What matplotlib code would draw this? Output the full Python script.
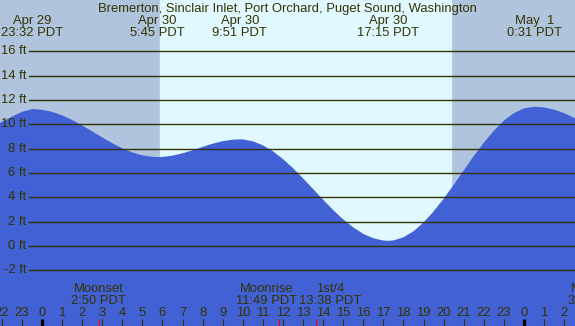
import matplotlib

matplotlib.use("Agg")
import matplotlib.pyplot as plt  # noqa: E402

plt.rcParams["font.family"] = ["Liberation Sans", "DejaVu Sans"]

# hours relative to Apr 30 00:00 PDT, tide height in ft
hours = [-2.1, -1.5, -1.0, -0.47, 0, 0.5, 1, 1.5, 2, 2.5, 3, 3.5, 4, 4.5, 5, 5.5,
         5.75, 6, 6.5, 7, 7.5, 8, 8.5, 9, 9.5, 9.85, 10, 10.5, 11, 11.5, 12, 12.5,
         13, 13.5, 14, 14.5, 15, 15.5, 16, 16.5, 17, 17.25, 17.5, 18, 18.5, 19,
         19.5, 20, 20.5, 21, 21.5, 22, 22.5, 23, 23.5, 24, 24.52, 25, 25.5, 26, 26.6]
heights = [10.10, 10.62, 11.02, 11.25, 11.19, 11.02, 10.73, 10.35, 9.90, 9.41,
           8.92, 8.44, 8.02, 7.68, 7.44, 7.32, 7.30, 7.31, 7.42, 7.61, 7.86, 8.14,
           8.40, 8.61, 8.73, 8.76, 8.75, 8.60, 8.27, 7.78, 7.14, 6.39, 5.55, 4.68,
           3.80, 2.95, 2.18, 1.52, 0.99, 0.63, 0.44, 0.42, 0.45, 0.71, 1.20, 1.92,
           2.83, 3.87, 5.02, 6.20, 7.38, 8.48, 9.47, 10.30, 10.91, 11.30, 11.44,
           11.38, 11.20, 10.92, 10.45]

# high / low tide labels along the top
extreme_hours = [-0.47, 5.75, 9.85, 17.25, 24.52]
extreme_dates = ["Apr 29", "Apr 30", "Apr 30", "Apr 30", "May  1"]
extreme_times = ["23:32 PDT", "5:45 PDT", "9:51 PDT", "17:15 PDT", "0:31 PDT"]

# moon events along the bottom
moon_hours = [2.83, 11.82, 13.63, 27.58]
moon_names = ["Moonset", "Moonrise", "1st/4", "Moonset"]
moon_times = ["2:50 PDT", "11:49 PDT", "13:38 PDT", "3:35 PDT"]
moon_label_shift = [0, -0.63, 0.7, 0]  # hours, to keep labels apart

sunrise, sunset = 5.88, 20.37
hour_ticks = list(range(-2, 27))
ft_ticks = list(range(-2, 17, 2))

TITLE = "Bremerton, Sinclair Inlet, Port Orchard, Puget Sound, Washington"
NIGHT = "#b0c4de"
DAY = "#e0f8ff"
WATER = "#4161d5"
INK = "#333300"
FS = 9.4

W, H = 575, 326
fig = plt.figure(figsize=(W / 100, H / 100), dpi=100)
ax = fig.add_axes([0, 0, 1, 1])
ax.set_xlim(-42 / 20.08, (W - 42) / 20.08)
ax.set_ylim(-6.58, 20.21)
ax.axis("off")
ax.add_patch(plt.Rectangle((0, 0), 1, 1, transform=ax.transAxes, color=NIGHT, zorder=0))
ax.axvspan(sunrise, sunset, color=DAY, zorder=1)

ax.fill_between(hours, heights, -10, color=WATER, lw=0, zorder=2)

for v in ft_ticks:
    ax.axhline(v, xmin=29 / W, xmax=1, color=INK, lw=1.0, zorder=3)
    ax.text(26 / W, v, f"{v} ft", transform=ax.get_yaxis_transform(),
            ha="right", va="center", fontsize=FS, color=INK, zorder=4)

xt = ax.get_xaxis_transform()


def fy(py):
    return 1 - py / H


# hour ticks and labels
for h in hour_ticks:
    midnight = h % 24 == 0
    ax.vlines(h, 0, fy(319), transform=xt, color="black" if midnight else INK,
              lw=2.3 if midnight else 0.8, zorder=4)
    ax.text(h, fy(316), str(h % 24), transform=xt, ha="center", va="baseline",
            fontsize=FS, color=INK, zorder=4)

for h, name, t, dx in zip(moon_hours, moon_names, moon_times, moon_label_shift):
    ax.vlines(h, 0, fy(319), transform=xt, color="red", lw=0.8, zorder=5)
    ax.text(h + dx, fy(292), name, transform=xt, ha="center", va="baseline",
            fontsize=FS, color=INK, zorder=4)
    ax.text(h + dx, fy(303.7), t, transform=xt, ha="center", va="baseline",
            fontsize=FS, color=INK, zorder=4)

for h, d, t in zip(extreme_hours, extreme_dates, extreme_times):
    ax.text(h, fy(24.3), d, transform=xt, ha="center", va="baseline",
            fontsize=FS, color=INK, zorder=4)
    ax.text(h, fy(35.7), t, transform=xt, ha="center", va="baseline",
            fontsize=FS, color=INK, zorder=4)

ax.text(0.5, fy(12), TITLE, transform=ax.transAxes, ha="center", va="baseline",
        fontsize=FS, color=INK, zorder=4)

fig.savefig("out.png", dpi=100)
